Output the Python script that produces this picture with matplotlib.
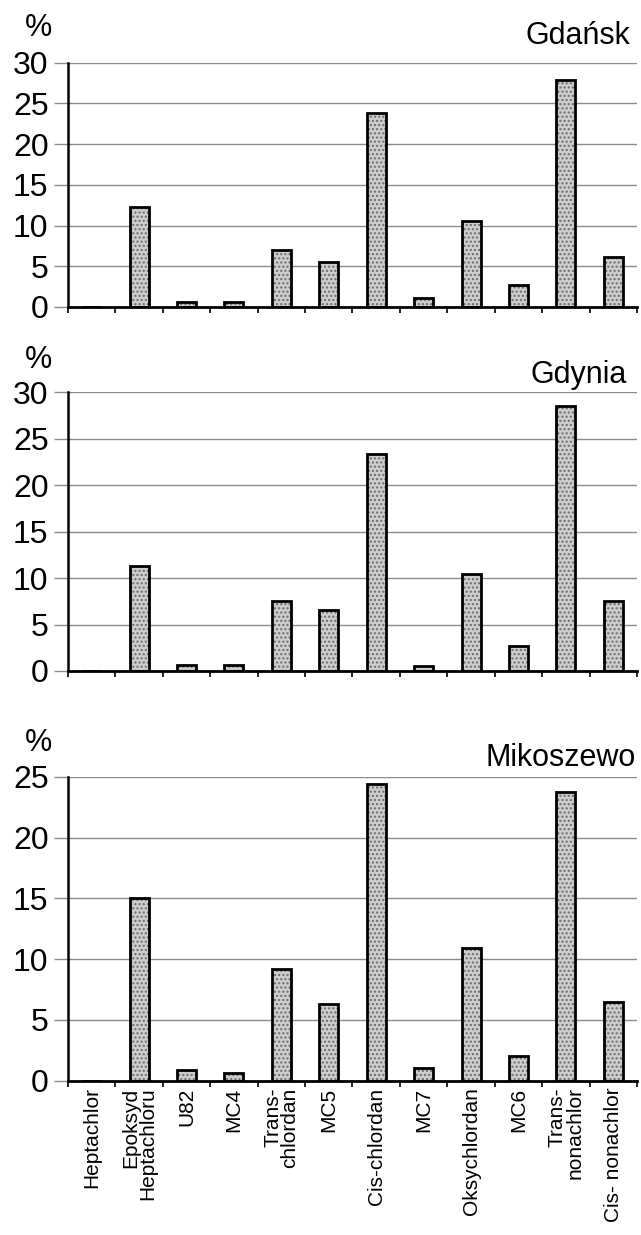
import matplotlib
matplotlib.use("Agg")
import matplotlib.pyplot as plt
import numpy as np

plt.rcParams['font.family'] = ['Liberation Sans', 'DejaVu Sans']
plt.rcParams['hatch.linewidth'] = 1.0

compounds = ["Heptachlor", "Epoksyd\nHeptachloru", "U82", "MC4", "Trans-\nchlordan",
             "MC5", "Cis-chlordan", "MC7", "Oksychlordan", "MC6", "Trans-\nnonachlor",
             "Cis- nonachlor"]

gdansk = [0.0, 12.3, 0.6, 0.6, 7.0, 5.5, 23.8, 1.1, 10.5, 2.7, 27.8, 6.1]
gdynia = [0.0, 11.3, 0.7, 0.6, 7.5, 6.6, 23.4, 0.5, 10.5, 2.7, 28.5, 7.5]
mikoszewo = [0.0, 15.0, 0.9, 0.6, 9.2, 6.3, 24.4, 1.0, 10.9, 2.0, 23.8, 6.5]

stations = ["Gdańsk", "Gdynia", "Mikoszewo"]
y_max = [30, 30, 25]
series = [gdansk, gdynia, mikoszewo]

W, H = 641, 1235
fig = plt.figure(figsize=(W / 100, H / 100), dpi=100)

# panel boxes in pixels: (left, right, top, bottom)
boxes = [(68, 637, 62.5, 307), (68, 637, 392.5, 671), (68, 637, 777, 1080.5)]
pct_y = [28, 360, 743]
title_y = [36, 375, 758]
title_x = [630, 627, 636]

x = np.arange(len(compounds))
for k, (vals, name, ym) in enumerate(zip(series, stations, y_max)):
    l, r, t, b = boxes[k]
    ax = fig.add_axes([l / W, 1 - b / H, (r - l) / W, (b - t) / H])
    ax.set_xlim(-0.5, len(compounds) - 0.5)
    ax.set_ylim(0, ym)
    ax.set_yticks(np.arange(0, ym + 1, 5))
    ax.yaxis.grid(True, color='#8c8c8c', lw=1.0)
    ax.set_axisbelow(True)
    # stippled fill, then the black outline
    ax.bar(x, vals, width=0.4, color='#cdcdcd', edgecolor='#6a6a6a', hatch='....',
           lw=0, zorder=2)
    ax.bar(x, vals, width=0.4, facecolor='none', edgecolor='black', lw=2.0, zorder=3)

    for s in ['top', 'right']:
        ax.spines[s].set_visible(False)
    ax.spines['left'].set_linewidth(1.8)
    ax.spines['bottom'].set_linewidth(2.0)
    ax.tick_params(axis='y', labelsize=23, length=10, color='#8c8c8c', width=1, pad=4)

    ax.set_xticks(x)
    ax.set_xticks(np.arange(-0.5, len(compounds), 1.0), minor=True)
    ax.tick_params(axis='x', which='minor', length=4, width=1.2, color='black')
    ax.tick_params(axis='x', which='major', length=0, pad=5)
    if k == 2:
        ax.set_xticklabels(compounds, rotation=90, fontsize=15, va='top', ha='center',
                           multialignment='right', linespacing=0.9)
    else:
        ax.set_xticklabels([])

    fig.text(38 / W, 1 - pct_y[k] / H, "%", fontsize=22, ha='center', va='center')
    fig.text(title_x[k] / W, 1 - title_y[k] / H, name, fontsize=22, ha='right', va='center')

fig.savefig("out.png", dpi=100)
